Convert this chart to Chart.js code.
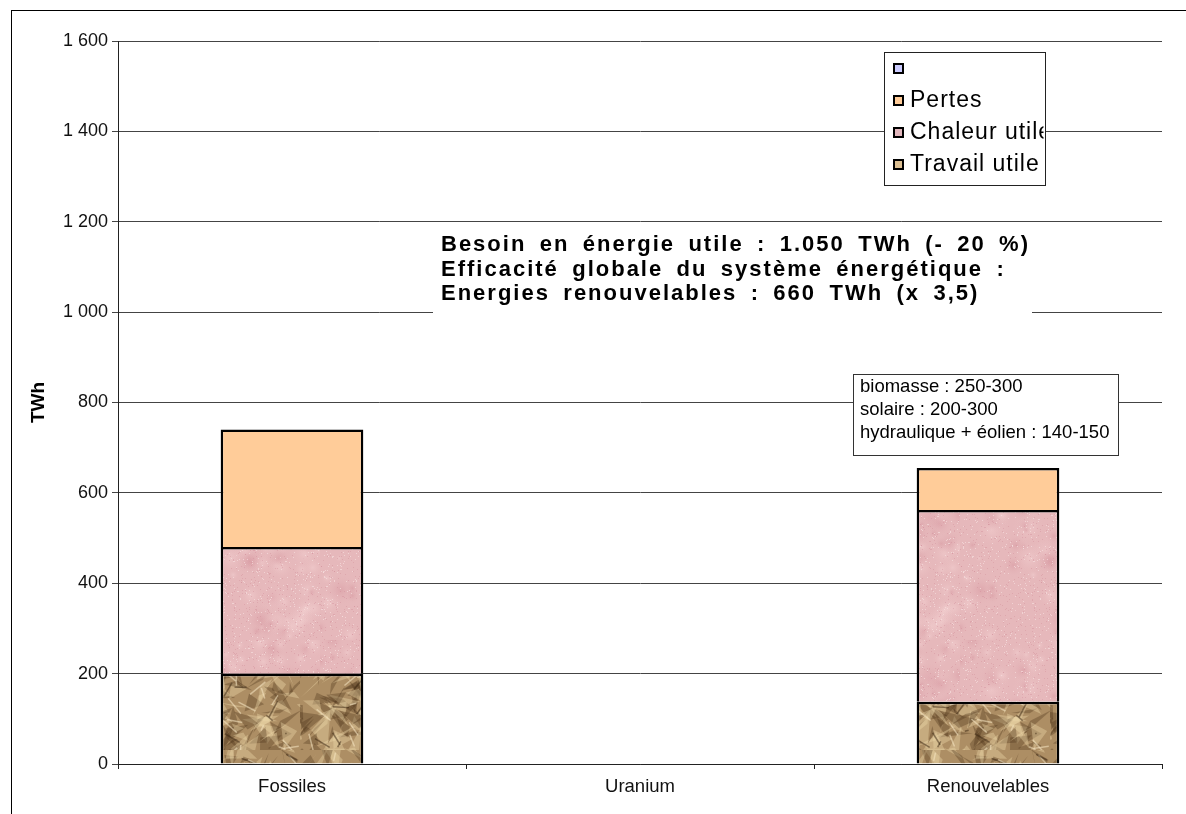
<!DOCTYPE html>
<html>
<head>
<meta charset="utf-8">
<script src="https://cdn.jsdelivr.net/npm/chart.js@4.4.0/dist/chart.umd.min.js"></script>
<style>
  html, body { margin: 0; padding: 0; background: #fff; }
  #wrap { position: relative; width: 1186px; height: 814px; overflow: hidden; }
  #chart { position: absolute; left: 0; top: 0; }
  #frame { position: absolute; left: 11px; top: 10px; right: -2px; bottom: -2px;
           border-top: 1px solid #000; border-left: 1px solid #000; pointer-events: none; }
</style>
</head>
<body>
<div id="wrap">
  <canvas id="chart" width="1186" height="814"></canvas>
  <div id="frame"></div>
</div>
<script>
// TWh par filière
const categories = ["Fossiles", "Uranium", "Renouvelables"];
const travailUtile = [200, null, 138];
const chaleurUtile = [280, null, 424];
const pertes = [260, null, 93];
const sansNom = [null, null, null];
const yTickLabels = ["0", "200", "400", "600", "800", "1 000", "1 200", "1 400", "1 600"];

const bilanLines = [
  "Besoin en énergie utile : 1.050 TWh (- 20 %)",
  "Efficacité globale du système énergétique :",
  "Energies renouvelables : 660 TWh (x 3,5)"
];
const renouvLines = [
  "biomasse : 250-300",
  "solaire : 200-300",
  "hydraulique + éolien : 140-150"
];

const FONT = "'Liberation Sans', Arial, Helvetica, sans-serif";
Chart.defaults.font.family = FONT;

// small deterministic generator for the fill textures
function rng(seed) {
  let s = seed;
  return () => (s = (s * 16807) % 2147483647) / 2147483647;
}

function marblePattern() {
  const c = document.createElement("canvas");
  c.width = 160; c.height = 160;
  const g = c.getContext("2d");
  const r = rng(7);
  g.fillStyle = "#e6b8bb";
  g.fillRect(0, 0, 160, 160);
  for (let i = 0; i < 90; i++) {
    const x = r() * 160, y = r() * 160, rad = 4 + r() * 14;
    const grd = g.createRadialGradient(x, y, 0, x, y, rad);
    grd.addColorStop(0, r() < 0.5 ? "rgba(210,142,152,0.4)" : "rgba(246,214,214,0.45)");
    grd.addColorStop(1, "rgba(230,184,187,0)");
    g.fillStyle = grd;
    g.fillRect(x - rad, y - rad, rad * 2, rad * 2);
  }
  for (let i = 0; i < 1600; i++) {
    g.fillStyle = r() < 0.5 ? "rgba(248,226,226,0.6)" : "rgba(205,136,148,0.35)";
    g.fillRect(Math.floor(r() * 160), Math.floor(r() * 160), 1, 1);
  }
  return g.createPattern(c, "repeat");
}

function crumplePattern() {
  const c = document.createElement("canvas");
  c.width = 150; c.height = 150;
  const g = c.getContext("2d");
  const r = rng(11);
  g.fillStyle = "#ad8e64";
  g.fillRect(0, 0, 150, 150);
  for (let i = 0; i < 240; i++) {
    const x = r() * 150, y = r() * 150;
    g.beginPath();
    g.moveTo(x, y);
    g.lineTo(x + (r() - 0.5) * 44, y + (r() - 0.5) * 44);
    g.lineTo(x + (r() - 0.5) * 44, y + (r() - 0.5) * 44);
    g.closePath();
    g.fillStyle = r() < 0.55 ? "rgba(240,218,172,0.38)" : "rgba(70,48,22,0.32)";
    g.fill();
  }
  g.lineWidth = 1.5;
  for (let i = 0; i < 70; i++) {
    const x = r() * 150, y = r() * 150;
    g.beginPath();
    g.moveTo(x, y);
    g.lineTo(x + (r() - 0.5) * 34, y + (r() - 0.5) * 34);
    g.strokeStyle = r() < 0.5 ? "rgba(55,36,16,0.5)" : "rgba(248,232,196,0.55)";
    g.stroke();
  }
  return g.createPattern(c, "repeat");
}

// text boxes and legend drawn over the plot
const overlays = {
  id: "overlays",
  afterDraw(chart) {
    const g = chart.ctx;
    g.save();

    // bilan box (no border), text clipped at its right edge
    g.fillStyle = "#fff";
    g.fillRect(433, 222, 599, 96);
    g.save();
    g.beginPath();
    g.rect(433, 222, 599, 96);
    g.clip();
    g.fillStyle = "#000";
    g.font = "bold 22px " + FONT;
    g.letterSpacing = "2px";
    g.textBaseline = "alphabetic";
    const first = bilanLines[0].split(" ");
    const natural = first.reduce((w, s) => w + g.measureText(s).width, 0);
    const gap = (589 - natural) / (first.length - 1);
    bilanLines.forEach((line, i) => {
      let x = 441;
      line.split(" ").forEach(word => {
        g.fillText(word, x, 251 + i * 24.5);
        x += g.measureText(word).width + gap;
      });
    });
    g.restore();

    // renewables box
    g.fillStyle = "#fff";
    g.fillRect(853.5, 374.5, 265, 81);
    g.strokeStyle = "#333";
    g.lineWidth = 1;
    g.strokeRect(853.5, 374.5, 265, 81);
    g.fillStyle = "#000";
    g.font = "18.5px " + FONT;
    g.letterSpacing = "0px";
    renouvLines.forEach((line, i) => g.fillText(line, 860, 392 + i * 23));

    // legend, last series on top
    const lx = 884.5, ly = 52.5, lw = 161, lh = 133;
    g.fillStyle = "#fff";
    g.fillRect(lx, ly, lw, lh);
    g.strokeStyle = "#222";
    g.strokeRect(lx, ly, lw, lh);
    g.save();
    g.beginPath();
    g.rect(lx, ly, lw - 2, lh);
    g.clip();
    g.font = "23px " + FONT;
    g.letterSpacing = "1px";
    g.textBaseline = "middle";
    const ds = chart.data.datasets.slice().reverse();
    ds.forEach((d, i) => {
      const cy = 68 + i * 32;
      g.fillStyle = d.legendColor;
      g.fillRect(894, cy - 4, 9, 9);
      g.strokeStyle = "#000";
      g.lineWidth = 2;
      g.strokeRect(894, cy - 4, 9, 9);
      g.fillStyle = "#000";
      g.fillText(d.label, 910, cy + 1);
    });
    g.restore();

    g.restore();
  }
};

const ctx = document.getElementById("chart").getContext("2d");
new Chart(ctx, {
  type: "bar",
  data: {
    labels: categories,
    datasets: [
      { label: "Travail utile", data: travailUtile, backgroundColor: crumplePattern(), legendColor: "#dcbf92" },
      { label: "Chaleur utile", data: chaleurUtile, backgroundColor: marblePattern(), legendColor: "#e2b7bd" },
      { label: "Pertes", data: pertes, backgroundColor: "#ffcc99", legendColor: "#ffcc99" },
      { label: "", data: sansNom, backgroundColor: "#ccccff", legendColor: "#ccccff" }
    ]
  },
  options: {
    responsive: false,
    animation: false,
    layout: { padding: { top: 41, right: 24, left: 0, bottom: 0 } },
    datasets: {
      bar: {
        borderColor: "#000",
        borderWidth: 2.5,
        categoryPercentage: 1,
        barPercentage: 0.41
      }
    },
    plugins: {
      legend: { display: false },
      tooltip: { enabled: false }
    },
    scales: {
      x: {
        stacked: true,
        grid: { drawOnChartArea: false, drawTicks: true, tickLength: 5, offset: true, color: "#222" },
        border: { color: "#222", width: 1 },
        ticks: { color: "#111", font: { size: 18.5 }, padding: 7 },
        afterFit: s => { s.height = 50; }
      },
      y: {
        stacked: true,
        min: 0,
        max: 1600,
        ticks: {
          stepSize: 200,
          padding: 4,
          color: "#111",
          font: { size: 18 },
          callback: v => yTickLabels[v / 200]
        },
        grid: { color: "#444", lineWidth: 1, tickLength: 6 },
        border: { color: "#222", width: 1 },
        title: {
          display: true,
          text: "TWh",
          color: "#000",
          font: { size: 19, weight: "bold" },
          padding: { top: 27, bottom: 0 }
        },
        afterFit: s => { s.width = 118; }
      }
    }
  },
  plugins: [overlays]
});
</script>
</body>
</html>
